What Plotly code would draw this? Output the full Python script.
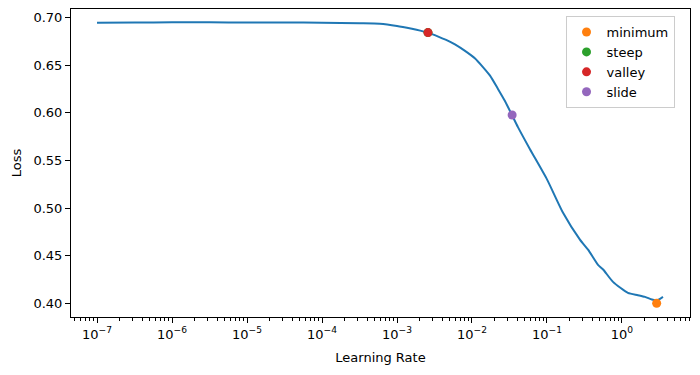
import plotly.graph_objects as go

# Learning rate finder curve
lrs = [1.0e-07, 3.2e-07, 1.0e-06, 3.2e-06, 1.0e-05, 3.2e-05, 1.0e-04, 3.2e-04,
       5.9e-04, 1.0e-03, 1.58e-03, 2.04e-03, 2.59e-03, 3.55e-03, 5.13e-03,
       5.93e-03, 8.07e-03, 1.10e-02, 1.40e-02, 1.74e-02, 2.22e-02, 2.75e-02,
       3.41e-02, 4.10e-02, 5.93e-02, 0.100, 0.163, 0.275, 0.355, 0.479, 0.56,
       0.759, 1.20, 1.63, 2.03, 2.51, 2.93, 3.52]
losses = [0.6945, 0.6947, 0.6950, 0.6950, 0.6949, 0.6948, 0.6946, 0.6941,
          0.6936, 0.6912, 0.6882, 0.6863, 0.6842, 0.6800, 0.6745,
          0.6718, 0.6650, 0.6570, 0.6480, 0.6390, 0.6251, 0.6124,
          0.5977, 0.5850, 0.5618, 0.5301, 0.4953, 0.4668, 0.4560, 0.4404, 0.4355,
          0.4225, 0.4109, 0.4085, 0.4067, 0.4040, 0.4030, 0.4067]

sugg_names = ["minimum", "steep", "valley", "slide"]
sugg_lrs = [2.9, 2.59e-03, 2.59e-03, 3.43e-02]
sugg_losses = [0.4000, 0.6842, 0.6842, 0.5977]
sugg_colors = ["#ff7f0e", "#2ca02c", "#d62728", "#9467bd"]

x_tickvals = [1e-7, 1e-6, 1e-5, 1e-4, 1e-3, 1e-2, 1e-1, 1e0]
x_ticktext = ["10<sup>−7</sup>", "10<sup>−6</sup>", "10<sup>−5</sup>", "10<sup>−4</sup>",
              "10<sup>−3</sup>", "10<sup>−2</sup>", "10<sup>−1</sup>", "10<sup>0</sup>"]
y_tickvals = [0.40, 0.45, 0.50, 0.55, 0.60, 0.65, 0.70]

fig = go.Figure()
fig.add_trace(go.Scatter(x=lrs, y=losses, mode="lines",
                         line=dict(color="#1f77b4", width=2, shape="spline", smoothing=0.6),
                         showlegend=False, hoverinfo="skip"))
for n, lx, ly, c in zip(sugg_names, sugg_lrs, sugg_losses, sugg_colors):
    fig.add_trace(go.Scatter(x=[lx], y=[ly], mode="markers", name=n,
                             marker=dict(color=c, size=9)))

font = dict(family="DejaVu Sans", size=13, color="black")
fig.update_layout(
    width=700, height=375,
    margin=dict(l=71, r=10, t=9, b=58),
    paper_bgcolor="white", plot_bgcolor="white",
    font=font,
    legend=dict(x=0.975, y=0.977, xanchor="right", yanchor="top",
                bordercolor="#cccccc", borderwidth=1, bgcolor="white",
                font=dict(family="DejaVu Sans", size=13), tracegroupgap=0,
                itemwidth=30),
)
fig.update_xaxes(
    type="log", range=[-7.347, 0.907], automargin=False,
    tickvals=x_tickvals, ticktext=x_ticktext,
    showline=True, linecolor="black", linewidth=1, mirror=True,
    ticks="outside", ticklen=5, tickcolor="black",
    minor=dict(ticks="outside", ticklen=2.5, tickcolor="black", dtick="D1"),
    showgrid=False, zeroline=False,
    title=dict(text="Learning Rate", font=font, standoff=12),
)
fig.update_yaxes(
    range=[0.3856, 0.709], automargin=False,
    tickvals=y_tickvals, tickformat=".2f",
    showline=True, linecolor="black", linewidth=1, mirror=True,
    ticks="outside", ticklen=5, tickcolor="black",
    showgrid=False, zeroline=False,
    title=dict(text="Loss", font=font, standoff=8),
)
fig.write_html("out.html", config={"displayModeBar": False},
               post_script="document.body.style.margin='0';document.body.style.padding='0';")
